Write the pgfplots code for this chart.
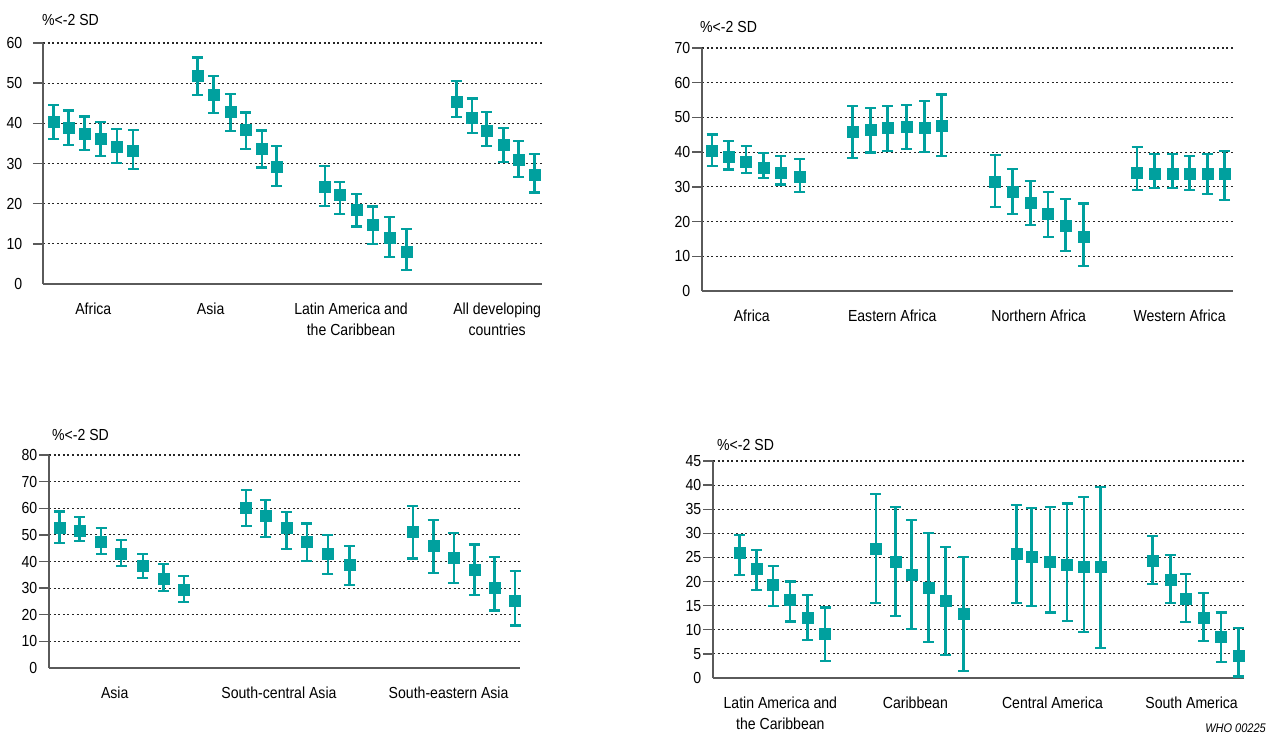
\documentclass[border=0pt]{standalone}
\usepackage{fontspec}
\setmainfont{Liberation Sans}[FakeStretch=0.88]
\usepackage{pgfplots}
\pgfplotsset{compat=1.18}
\usepackage{pgfplotstable}

\definecolor{whoteal}{RGB}{0,160,158}
\definecolor{axisgray}{RGB}{90,90,90}
\newcommand\labfont{\fontsize{16}{21}\selectfont}

% x positions are read along each panel's axis, y as % below -2 SD
\pgfplotstableread{
x    y    lo   hi
155  40.3 36.1 44.6
196  38.9 34.7 43.2
241  37.5 33.4 41.7
286  36.1 31.9 40.3
331  34.3 30.2 38.6
376  33.3 28.6 38.3
555  51.9 47.1 56.4
600  47.2 42.6 51.7
647  42.8 38.1 47.3
690  38.3 33.6 42.7
735  33.7 29.0 38.2
776  29.3 24.4 34.3
910  24.3 19.5 29.4
952  22.2 17.5 25.4
999  18.4 14.3 22.4
1044 14.8 10.0 19.3
1091 11.6  6.8 16.6
1138  8.1  3.4 13.7
1276 45.4 41.5 50.5
1320 41.5 37.6 46.2
1361 38.2 34.3 42.9
1407 34.6 30.3 38.9
1450 30.9 26.7 35.6
1494 27.3 22.8 32.4
}\dataA

\pgfplotstableread{
x    y    lo   hi
180  40.5 36.1 45.1
221  38.8 35.0 43.1
264  37.3 34.0 41.7
307  35.6 32.6 39.8
350  34.1 30.7 38.9
397  32.8 28.6 38.0
527  45.8 38.4 53.3
571  46.5 39.9 52.8
614  47.0 40.4 53.3
660  47.2 41.0 53.5
705  47.0 40.0 54.8
746  47.7 38.9 56.6
879  31.4 24.1 39.1
922  28.5 22.2 35.1
966  25.4 19.1 31.7
1010 22.2 15.5 28.5
1053 18.7 11.6 26.6
1097 15.5  7.3 25.2
1230 34.2 29.1 41.5
1273 33.9 29.7 39.4
1318 33.9 29.7 39.4
1360 33.9 29.1 38.8
1404 33.9 27.9 39.4
1446 33.9 26.3 40.4
}\dataB

\pgfplotstableread{
x    y    lo   hi
165  52.6 46.9 58.8
222  51.7 47.8 56.8
282  47.3 42.7 52.7
338  42.8 38.2 48.2
399  38.5 33.8 42.9
456  33.7 29.0 39.2
514  29.5 24.7 34.7
688  60.3 53.3 66.9
743  57.1 49.1 63.2
801  52.6 44.7 58.6
858  47.6 40.1 54.3
917  42.9 35.3 49.9
977  38.7 31.1 45.7
1155 51.3 41.1 60.9
1212 46.1 35.8 55.7
1270 41.3 32.0 50.7
1327 36.8 27.5 46.4
1384 30.1 21.6 41.7
1441 25.3 16.0 36.5
}\dataC

\pgfplotstableread{
x    y    lo   hi
243  25.9 21.3 29.7
286  22.7 18.2 26.6
327  19.3 14.9 23.3
369  16.2 11.7 20.0
412  12.6  7.9 17.2
456   9.1  3.6 14.6
582  26.8 15.6 38.1
630  24.2 12.9 35.4
671  21.4 10.1 32.7
712  18.8  7.5 30.0
755  16.0  4.7 27.2
799  13.4  1.5 25.1
930  25.7 15.5 35.9
968  25.1 14.9 35.3
1014 24.2 13.6 35.4
1056 23.5 11.8 36.2
1098 23.1  9.5 37.6
1139 23.1  6.2 39.6
1268 24.3 19.5 29.4
1312 20.4 15.6 25.5
1351 16.4 11.6 21.5
1394 12.5  7.7 17.6
1438  8.6  3.3 13.6
1481  4.7  0.3 10.3
}\dataD

\tikzset{
  cat/.style={anchor=north, yshift=-19pt, align=center, font=\labfont, inner sep=0pt},
}
\pgfplotsset{
  panel/.style={
    scale only axis, anchor=south west, clip=false,
    axis x line*=bottom, axis y line*=left,
    axis line style={draw=axisgray, line width=1.6pt},
    xtick=\empty, ymin=0, enlargelimits=false,
    ymajorgrids,
    grid style={black!85, line width=1.2pt, dash pattern=on 2pt off 2.6pt},
    tick align=outside, major tick length=10pt,
    ytick style={draw=axisgray, line width=1.4pt},
    yticklabel style={font=\labfont, inner sep=1.5pt},
    /pgf/number format/assume math mode=true,
    extra y ticks={0},
    extra y tick style={grid=none, major tick length=0pt,
      yticklabel style={xshift=-10pt}},
  },
  ci/.style={only marks, mark=square*, mark size=5.5pt, color=whoteal,
    error bars/.cd, y dir=both, y explicit, error mark=|,
    error bar style={line width=2.6pt, whoteal},
    error mark options={line width=2.2pt, mark size=5.5pt, whoteal}},
}

\newcommand\ciplot[1]{%
  \addplot[ci] table[x=x, y=y,
    y error plus expr=\thisrow{hi}-\thisrow{y},
    y error minus expr=\thisrow{y}-\thisrow{lo}] {#1};}

\begin{document}
\begin{tikzpicture}[x=1pt, y=1pt]
\useasboundingbox (0,0) rectangle (1273,736);

% top left
\begin{axis}[panel, at={(43pt,452pt)}, width=499pt, height=241pt,
    xmin=125, xmax=1515, ymax=60, ytick={10,20,...,60},
    yticklabel style={xshift=-9pt}]
  \ciplot{\dataA}
  \node[cat] at (axis cs:265,0) {Africa};
  \node[cat] at (axis cs:592,0) {Asia};
  \node[cat] at (axis cs:983,0) {Latin America and\\the Caribbean};
  \node[cat] at (axis cs:1390,0) {All developing\\countries};
\end{axis}

% top right
\begin{axis}[panel, at={(702pt,445pt)}, width=531pt, height=243pt,
    xmin=155, xmax=1467, ymax=70, ytick={10,20,...,70}]
  \ciplot{\dataB}
  \node[cat] at (axis cs:278,0) {Africa};
  \node[cat] at (axis cs:625,0) {Eastern Africa};
  \node[cat] at (axis cs:987,0) {Northern Africa};
  \node[cat] at (axis cs:1335,0) {Western Africa};
\end{axis}

% bottom left
\begin{axis}[panel, at={(49pt,68pt)}, width=471pt, height=213pt,
    xmin=136, xmax=1455, ymax=80, ytick={10,20,...,80}]
  \ciplot{\dataC}
  \node[cat] at (axis cs:320,0) {Asia};
  \node[cat] at (axis cs:780,0) {South-central Asia};
  \node[cat] at (axis cs:1255,0) {South-eastern Asia};
\end{axis}

% bottom right
\begin{axis}[panel, at={(713pt,58pt)}, width=531pt, height=217pt,
    xmin=178, xmax=1495, ymax=45, ytick={5,10,...,45}]
  \ciplot{\dataD}
  \node[cat] at (axis cs:345,0) {Latin America and\\the Caribbean};
  \node[cat] at (axis cs:680,0) {Caribbean};
  \node[cat] at (axis cs:1020,0) {Central America};
  \node[cat] at (axis cs:1365,0) {South America};
\end{axis}

\node[anchor=west, font=\labfont, inner sep=0pt] at (42,716) {\%<-2 SD};
\node[anchor=west, font=\labfont, inner sep=0pt] at (700,709) {\%<-2 SD};
\node[anchor=west, font=\labfont, inner sep=0pt] at (52,301) {\%<-2 SD};
\node[anchor=west, font=\labfont, inner sep=0pt] at (717,291) {\%<-2 SD};
\node[anchor=east, font=\fontsize{12.5}{14}\selectfont\itshape, inner sep=0pt]
  at (1266,8) {WHO 00225};
\end{tikzpicture}
\end{document}
